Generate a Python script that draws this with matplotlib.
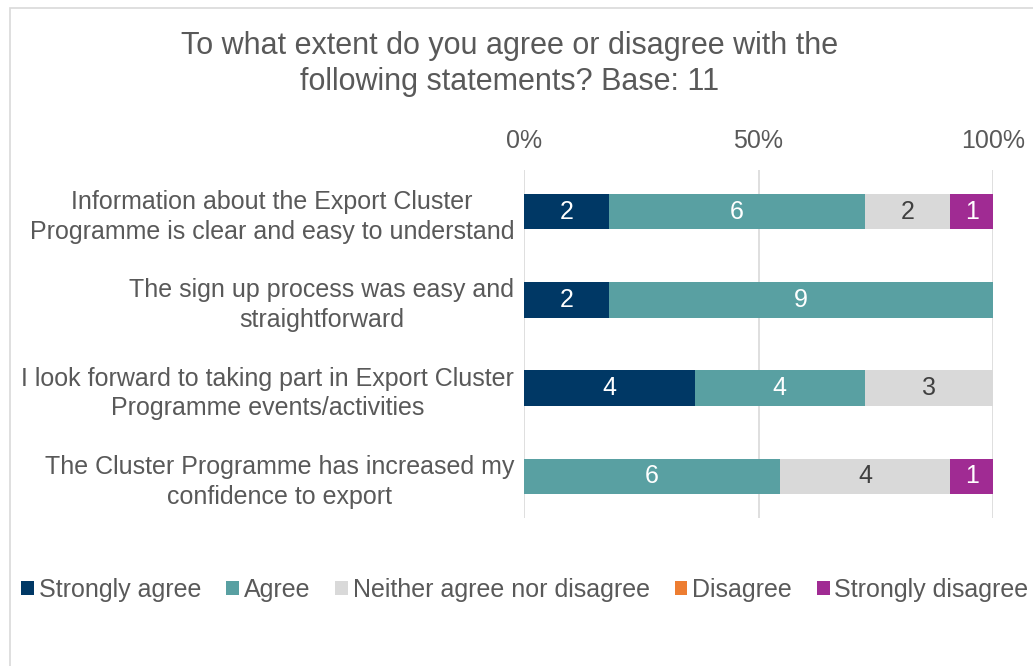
import matplotlib.pyplot as plt
import matplotlib.patches as mpatches
import numpy as np

plt.rcParams['font.family'] = ['Liberation Sans', 'DejaVu Sans']

statements = [
    'Information about the Export Cluster\nProgramme is clear and easy to understand',
    'The sign up process was easy and\nstraightforward',
    'I look forward to taking part in Export Cluster\nProgramme events/activities',
    'The Cluster Programme has increased my\nconfidence to export',
]
categories = ['Strongly agree', 'Agree', 'Neither agree nor disagree', 'Disagree', 'Strongly disagree']
strongly_agree = [2, 2, 4, 0]
agree = [6, 9, 4, 6]
neither = [2, 0, 3, 4]
disagree = [0, 0, 0, 0]
strongly_disagree = [1, 0, 0, 1]
xticks = [0, 50, 100]

colors = ['#003865', '#59A0A2', '#D9D9D9', '#ED7D31', '#A02B93']
text_colors = ['white', 'white', '#404040', 'white', 'white']
grey = '#595959'
fs = 18

series = [strongly_agree, agree, neither, disagree, strongly_disagree]
counts = np.array(series, dtype=float)
totals = counts.sum(axis=0)
pct = counts / totals * 100

fig = plt.figure(figsize=(10.33, 6.66), dpi=100)
ax = fig.add_axes([524 / 1033, 1 - 518 / 666, 469 / 1033, 348 / 666])

# light frame round the chart area
fig.patches.append(mpatches.Rectangle((10 / 1033, -0.05), 1.1, 1 - 8 / 666 + 0.05,
                                      transform=fig.transFigure, fill=False,
                                      edgecolor='#D9D9D9', linewidth=1.2))

y = np.arange(len(statements))
left = np.zeros(len(statements))
for i, cat in enumerate(categories):
    ax.barh(y, pct[i], left=left, height=0.4, color=colors[i], label=cat, zorder=3)
    for j in range(len(statements)):
        if counts[i][j] > 0:
            ax.text(left[j] + pct[i][j] / 2, y[j], '%d' % counts[i][j], ha='center', va='center',
                    fontsize=fs, color=text_colors[i], zorder=4)
    left += pct[i]

ax.set_xlim(0, 100)
ax.set_ylim(3.47, -0.47)
ax.set_yticks(y)
ax.set_yticklabels(statements, fontsize=fs, color=grey, multialignment='center', linespacing=1.3)
ax.set_xticks(xticks)
ax.set_xticklabels(['%d%%' % t for t in xticks], fontsize=fs, color=grey)
ax.xaxis.tick_top()
ax.tick_params(axis='both', length=0)
ax.tick_params(axis='x', pad=12)
ax.tick_params(axis='y', pad=7)
ax.grid(axis='x', color='#D9D9D9', linewidth=1.2, zorder=0)
for s in ax.spines.values():
    s.set_visible(False)

fig.text(510 / 1033, 1 - 64 / 666, 'To what extent do you agree or disagree with the\nfollowing statements? Base: 11',
         ha='center', va='center', fontsize=22, color=grey, linespacing=1.25)

fig.legend(loc='center', bbox_to_anchor=(525 / 1033, 1 - 590 / 666), ncol=5, frameon=False,
           fontsize=fs, labelcolor=grey, handlelength=0.5, handleheight=0.5,
           handletextpad=0.2, columnspacing=1.0)

plt.savefig('out.png', dpi=100)
